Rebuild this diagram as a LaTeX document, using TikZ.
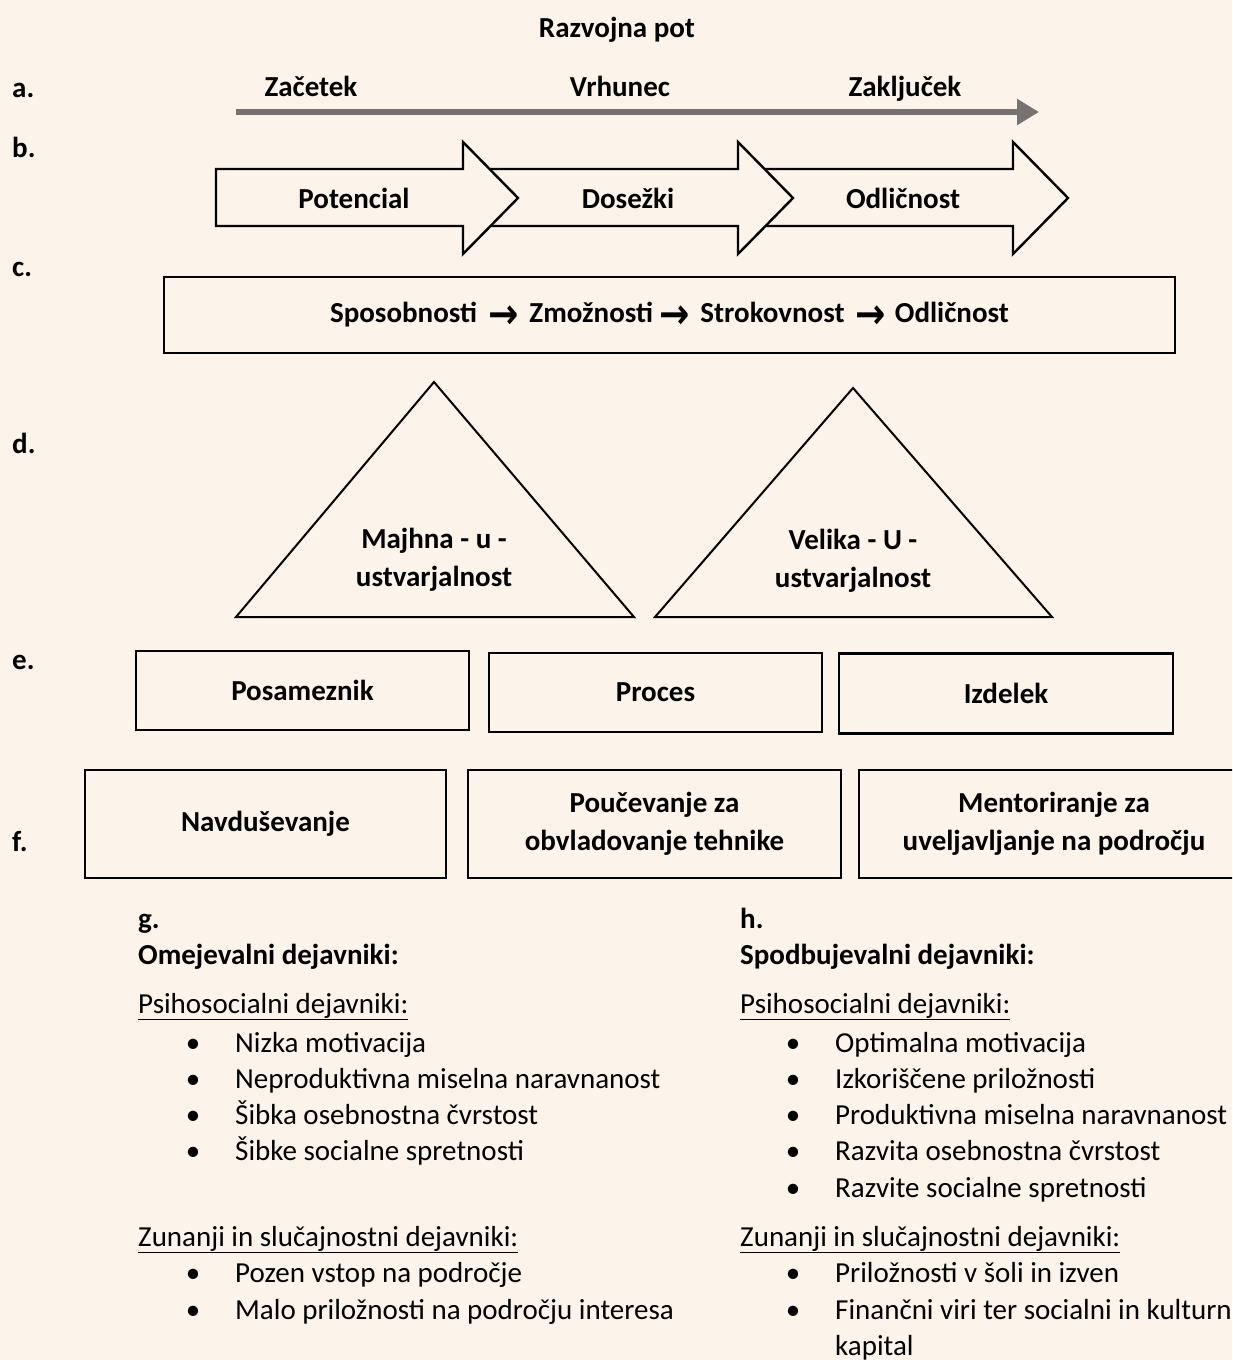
\documentclass[tikz,border=0pt]{standalone}
\usepackage{graphicx}
\usepackage{fontspec}
\setmainfont{Carlito}
\newfontfamily\symfont{DejaVu Sans}
\usetikzlibrary{arrows.meta}
\definecolor{paper}{RGB}{252,243,234}
\definecolor{pathgray}{RGB}{118,114,114}
\newcommand\figsize{\fontsize{29}{38}\selectfont}
\newcommand\stagearrow{\raisebox{-6pt}{\scalebox{1.25}[1.45]{\symfont\fontsize{29}{38}\selectfont\bfseries →}}}

\tikzset{
  rowlbl/.style={anchor=base west,inner sep=0pt,font=\figsize\bfseries},
  head/.style={anchor=base,inner sep=0pt,font=\figsize\bfseries},
  frame/.style={draw,line width=2.8pt,inner sep=0pt,align=center,font=\figsize\bfseries},
  factor/.style={anchor=base west,inner sep=0pt,font=\figsize},
  dot/.style={anchor=base,inner sep=0pt,font=\figsize},
}

\begin{document}
\begin{tikzpicture}[x=1pt,y=-1pt]
\fill[paper] (0,0) rectangle (1232,1360);
\useasboundingbox (0,0) rectangle (1232,1360);
\clip (0,0) rectangle (1232,1360);

% title and row letters
\node[head] (title) at (617,37) {Razvojna pot};
\foreach \l/\y in {a/97,b/157,c/276,d/453,e/669,f/851}
  \node[rowlbl] (row\l) at (12,\y) {\l.};

% a. time line
\node[head] (start) at (311,96) {Začetek};
\node[head] (peak) at (620,96) {Vrhunec};
\node[head] (finish) at (905,96) {Zaključek};
\coordinate (pathstart) at (236,112);
\coordinate (pathend) at (1039,112);
\draw[pathgray,line width=5.5pt,-{Triangle[length=22pt,width=25pt]}] (pathstart) -- (pathend);

% b. block arrows, last one first so that the heads cover the next bodies
\foreach \s/\b in {748/1013,473/738,216/463}
  \draw[fill=paper,line width=2.4pt,line join=miter]
    (\s,169) -- (\b,169) -- (\b,142) -- ({\b+55},198) -- (\b,254) -- (\b,226) -- (\s,226) -- cycle;
\node[head] (potential) at (354,208) {Potencial};
\node[head] (achieve) at (628,208) {Dosežki};
\node[head] (excel) at (903,208) {Odličnost};

% c.
\node[frame,minimum width=1011pt,minimum height=76pt] (stages) at (669.5,315)
  {Sposobnosti\hspace{11pt}\stagearrow\hspace{11pt}Zmožnosti\hspace{6pt}\stagearrow\hspace{11pt}Strokovnost\hspace{11pt}\stagearrow\hspace{9pt}Odličnost};

% d. triangles
\draw[line width=2pt,line join=miter] (434,382) -- (634,617) -- (236,617) -- cycle;
\draw[line width=2pt,line join=miter] (853,388) -- (1052,617) -- (655,617) -- cycle;
\node[frame,draw=none] (smallc) at (434,560) {Majhna - u -\\ustvarjalnost};
\node[frame,draw=none] (bigc) at (853,561) {Velika - U -\\ustvarjalnost};

% e.
\node[frame,minimum width=333pt,minimum height=79pt] (person) at (302.5,690.5) {Posameznik};
\node[frame,minimum width=333pt,minimum height=79pt] (process) at (655.5,692.5) {Proces};
\node[frame,minimum width=334pt,minimum height=80pt] (product) at (1006,693.5) {Izdelek};

% f.
\node[frame,minimum width=361pt,minimum height=108pt] (inspire) at (265.5,824) {Navduševanje};
\node[frame,minimum width=373pt,minimum height=108pt] (teach) at (654.5,824) {Poučevanje za\\obvladovanje tehnike};
\node[frame,minimum width=390pt,minimum height=108pt] (mentor) at (1054,824) {Mentoriranje za\\uveljavljanje na področju};

% g.
\node[rowlbl] (glbl) at (138,928) {g.};
\node[rowlbl] (ghead) at (138,964) {Omejevalni dejavniki:};
\node[factor] (gpsy) at (138,1013) {\underline{Psihosocialni dejavniki:}};
\foreach \t [count=\i] in {Nizka motivacija,Neproduktivna miselna naravnanost,%
    Šibka osebnostna čvrstost,Šibke socialne spretnosti} {
  \node[dot] (gpdot\i) at (193,{1015.7+36.3*\i}) {\textbullet};
  \node[factor] (gpitem\i) at (235,{1015.7+36.3*\i}) {\t};
}
\node[factor] (gext) at (138,1246) {\underline{Zunanji in slučajnostni dejavniki:}};
\foreach \t [count=\i] in {Pozen vstop na področje,Malo priložnosti na področju interesa} {
  \node[dot] (gedot\i) at (193,{1246+36.8*\i}) {\textbullet};
  \node[factor] (geitem\i) at (235,{1246+36.8*\i}) {\t};
}

% h.
\node[rowlbl] (hlbl) at (740,928) {h.};
\node[rowlbl] (hhead) at (740,964) {Spodbujevalni dejavniki:};
\node[factor] (hpsy) at (740,1013) {\underline{Psihosocialni dejavniki:}};
\foreach \t [count=\i] in {Optimalna motivacija,Izkoriščene priložnosti,%
    Produktivna miselna naravnanost,Razvita osebnostna čvrstost,Razvite socialne spretnosti} {
  \node[dot] (hpdot\i) at (793,{1015.7+36.3*\i}) {\textbullet};
  \node[factor] (hpitem\i) at (835,{1015.7+36.3*\i}) {\t};
}
\node[factor] (hext) at (740,1246) {\underline{Zunanji in slučajnostni dejavniki:}};
\foreach \t [count=\i] in {Priložnosti v šoli in izven,Finančni viri ter socialni in kulturni} {
  \node[dot] (hedot\i) at (793,{1246+36.8*\i}) {\textbullet};
  \node[factor] (heitem\i) at (835,{1246+36.8*\i}) {\t};
}
\node[factor] (heitem2b) at (835,1355) {kapital};
\end{tikzpicture}
\end{document}
